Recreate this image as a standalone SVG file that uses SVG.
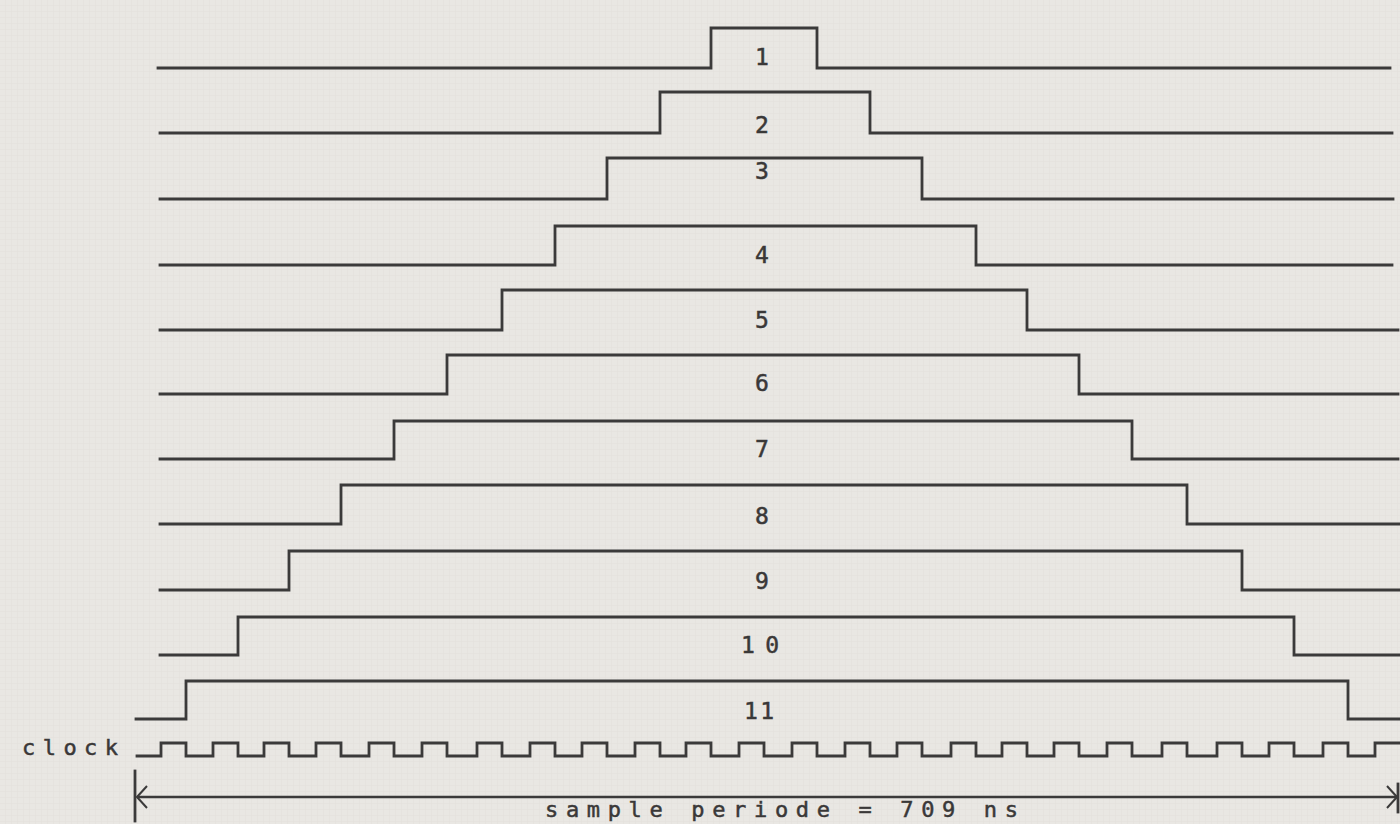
<svg xmlns="http://www.w3.org/2000/svg" width="1400" height="824" viewBox="0 0 1400 824">
<defs>
<style>
.w{fill:none;stroke:#3b3a3a;stroke-width:2.8;stroke-linejoin:miter;stroke-linecap:square}
.lbl{font-family:"DejaVu Sans Mono","Liberation Mono",monospace;font-size:23px;fill:#3a3838;stroke:#3a3838;stroke-width:0.5;text-anchor:middle}
.t{font-family:"DejaVu Sans Mono","Liberation Mono",monospace;font-size:22px;fill:#3a3838;stroke:#3a3838;stroke-width:0.5}
</style>
<pattern id="grid" width="6" height="6" patternUnits="userSpaceOnUse">
<path d="M6 0V6M0 6H6" fill="none" stroke="#dedbd6" stroke-width="1"/>
</pattern>
<marker id="ah" viewBox="0 0 12 24" refX="11" refY="12" markerWidth="12" markerHeight="24" markerUnits="userSpaceOnUse" orient="auto-start-reverse">
<path d="M1 1L11 12L1 23" fill="none" stroke="#3b3a3a" stroke-width="2"/>
</marker>
</defs>
<rect width="1400" height="824" fill="#e9e7e3"/>
<rect width="1400" height="824" fill="url(#grid)" opacity="0.6"/>

<g id="row1"><path class="w" d="M158 68H711V28H817V68H1390"/><text class="lbl" x="762" y="65">1</text></g>
<g id="row2"><path class="w" d="M160 133H660V92H870V133H1392"/><text class="lbl" x="762" y="133">2</text></g>
<g id="row3"><path class="w" d="M160 199H607V158H922V199H1393"/><text class="lbl" x="762" y="179">3</text></g>
<g id="row4"><path class="w" d="M160 265H555V226H976V265H1392"/><text class="lbl" x="762" y="263">4</text></g>
<g id="row5"><path class="w" d="M160 330H502V290H1027V330H1398"/><text class="lbl" x="762" y="328">5</text></g>
<g id="row6"><path class="w" d="M160 394H447V355H1079V394H1398"/><text class="lbl" x="762" y="391">6</text></g>
<g id="row7"><path class="w" d="M160 459H394V421H1132V459H1398"/><text class="lbl" x="762" y="457">7</text></g>
<g id="row8"><path class="w" d="M160 524H341V485H1187V524H1400"/><text class="lbl" x="762" y="524">8</text></g>
<g id="row9"><path class="w" d="M160 590H289V551H1242V590H1400"/><text class="lbl" x="762" y="589">9</text></g>
<g id="row10"><path class="w" d="M160 655H238V617H1294V655H1400"/><text class="lbl" x="760" y="653" textLength="38" lengthAdjust="spacing">10</text></g>
<g id="row11"><path class="w" d="M136 719H186V681H1348V719H1400"/><text class="lbl" x="759" y="719" textLength="30" lengthAdjust="spacing">11</text></g>

<g id="clock">
<text class="t" x="22" y="755" textLength="96" lengthAdjust="spacing">clock</text>
<path class="w" stroke-width="2.4" d="M137 756H161V743H186V756H213V743H238V756H264V743H289V756H316V743H341V756H369V743H394V756H422V743H447V756H477V743H502V756H530V743H555V756H582V743H607V756H635V743H660V756H686V743H711V756H739V743H764V756H792V743H817V756H845V743H870V756H897V743H922V756H951V743H976V756H1002V743H1027V756H1054V743H1079V756H1107V743H1132V756H1162V743H1187V756H1217V743H1242V756H1269V743H1294V756H1323V743H1348V756H1375V743H1400"/>
</g>

<g id="connectors">
<path class="w" stroke-width="2.6" d="M135 771V821"/>
<path class="w" stroke-width="2" d="M1398 784V812"/>
<line x1="137" y1="797" x2="1397" y2="797" stroke="#3b3a3a" stroke-width="2.4" marker-start="url(#ah)" marker-end="url(#ah)"/>
</g>

<g id="period-label">
<text class="t" x="545" y="817" textLength="473" lengthAdjust="spacing">sample periode = 709 ns</text>
</g>
</svg>
